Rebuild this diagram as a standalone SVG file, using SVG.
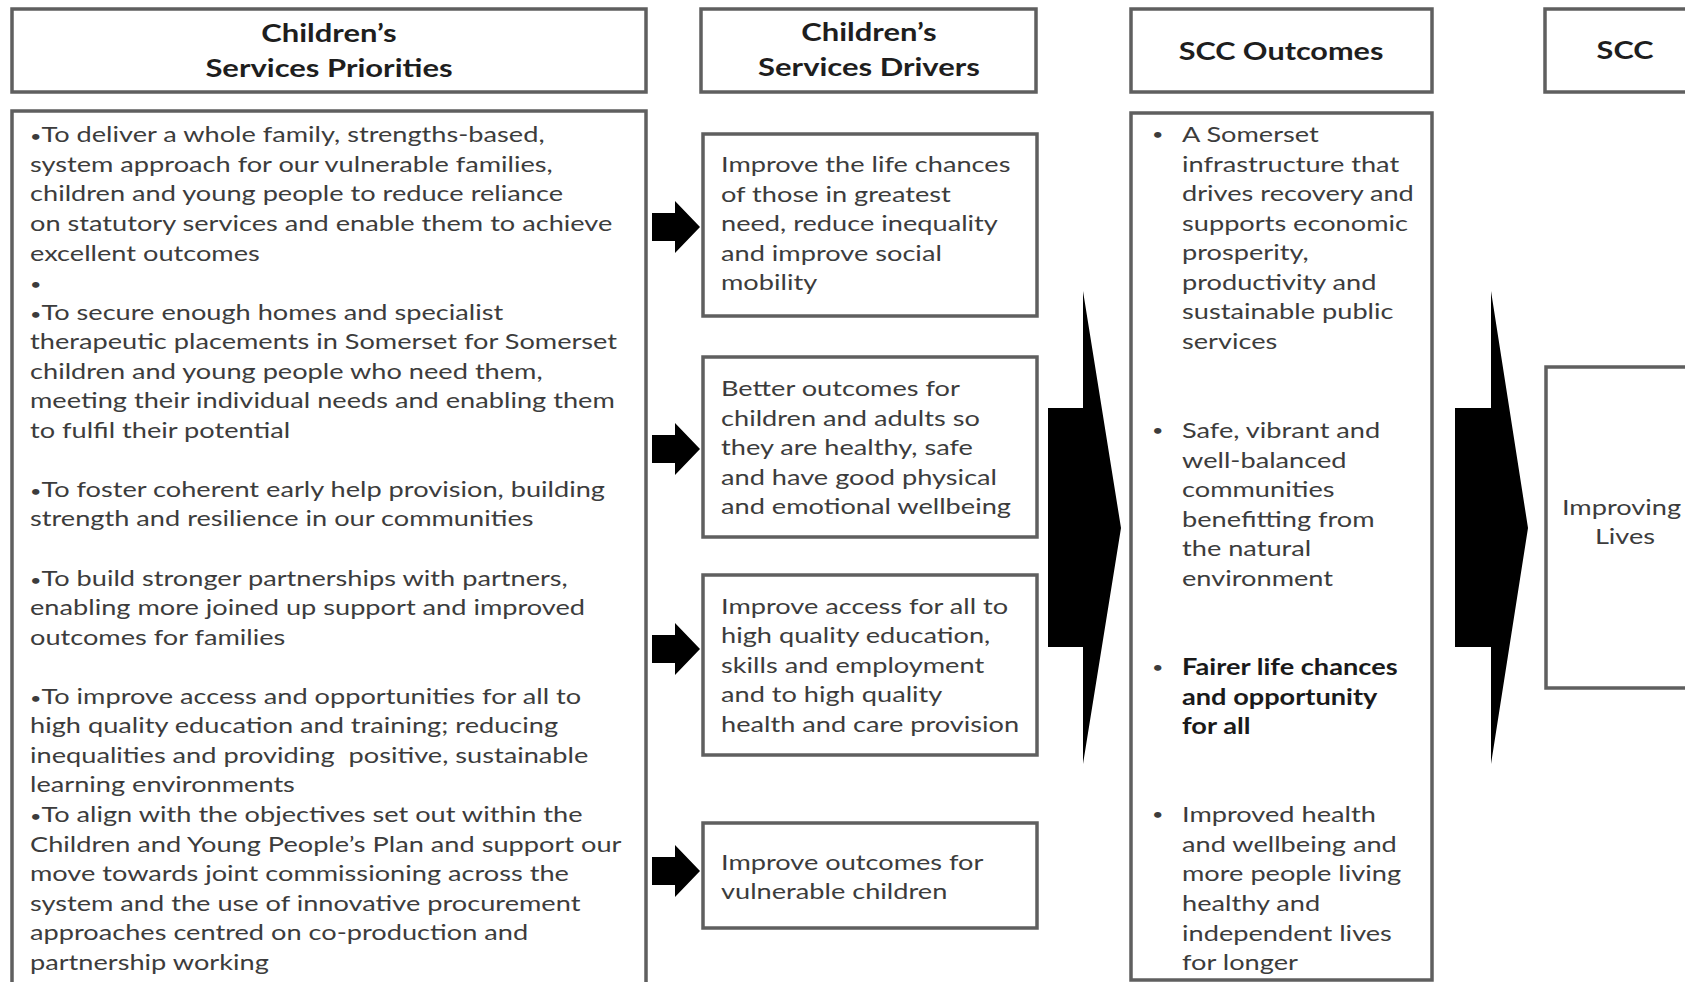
<svg xmlns="http://www.w3.org/2000/svg" width="1685" height="982" viewBox="0 0 1685 982">
<style>
.box{fill:#fff;stroke:#5f5f5f;stroke-width:3.5}
.t{font-family:Lato,"Open Sans","Liberation Sans",sans-serif;font-size:22px;fill:#3c3c3c}
.tb{font-family:Lato,"Open Sans","Liberation Sans",sans-serif;font-size:22px;fill:#1a1a1a;font-weight:bold}
.h{font-family:Lato,"Open Sans","Liberation Sans",sans-serif;font-size:25.5px;fill:#1e1e1e;font-weight:bold;text-anchor:middle}
.c{text-anchor:middle}
.bu{font-size:16px}
.arr{fill:#000}
</style>
<rect width="1685" height="982" fill="#fff"/>

<g id="hdr-priorities">
<rect class="box" x="12" y="9" width="634" height="83"/>
<g transform="translate(329 0) scale(1.215 1)"><text class="h"><tspan x="0" y="42">Children’s</tspan><tspan x="0" y="77">Services Priorities</tspan></text></g>
</g>

<g id="hdr-drivers">
<rect class="box" x="701" y="9" width="335" height="83"/>
<g transform="translate(869 0) scale(1.215 1)"><text class="h"><tspan x="0" y="41">Children’s</tspan><tspan x="0" y="76">Services Drivers</tspan></text></g>
</g>

<g id="hdr-outcomes">
<rect class="box" x="1131" y="9" width="301" height="83"/>
<g transform="translate(1281 0) scale(1.2 1)"><text class="h"><tspan x="0" y="60">SCC Outcomes</tspan></text></g>
</g>

<g id="hdr-scc">
<rect class="box" x="1545" y="9" width="170" height="83"/>
<g transform="translate(1625 0) scale(1.2 1)"><text class="h"><tspan x="0" y="59">SCC</tspan></text></g>
</g>

<g id="priorities">
<rect class="box" x="12" y="111" width="634" height="890"/>
<g transform="translate(30 0) scale(1.235 1)"><text class="t">
<tspan x="0" y="142.4"><tspan class="bu">•</tspan>To deliver a whole family, strengths-based,</tspan>
<tspan x="0" y="171.9">system approach for our vulnerable families,</tspan>
<tspan x="0" y="201.5">children and young people to reduce reliance</tspan>
<tspan x="0" y="231">on statutory services and enable them to achieve</tspan>
<tspan x="0" y="260.6">excellent outcomes</tspan>
<tspan x="0" y="290.2" class="bu">•</tspan>
<tspan x="0" y="319.7"><tspan class="bu">•</tspan>To secure enough homes and specialist</tspan>
<tspan x="0" y="349.2">therapeutic placements in Somerset for Somerset</tspan>
<tspan x="0" y="378.8">children and young people who need them,</tspan>
<tspan x="0" y="408.3">meeting their individual needs and enabling them</tspan>
<tspan x="0" y="437.9">to fulfil their potential</tspan>
<tspan x="0" y="497"><tspan class="bu">•</tspan>To foster coherent early help provision, building</tspan>
<tspan x="0" y="526.5">strength and resilience in our communities</tspan>
<tspan x="0" y="585.6"><tspan class="bu">•</tspan>To build stronger partnerships with partners,</tspan>
<tspan x="0" y="615.2">enabling more joined up support and improved</tspan>
<tspan x="0" y="644.7">outcomes for families</tspan>
<tspan x="0" y="703.8"><tspan class="bu">•</tspan>To improve access and opportunities for all to</tspan>
<tspan x="0" y="733.4">high quality education and training; reducing</tspan>
<tspan x="0" y="762.9" xml:space="preserve">inequalities and providing  positive, sustainable</tspan>
<tspan x="0" y="792.5">learning environments</tspan>
<tspan x="0" y="822"><tspan class="bu">•</tspan>To align with the objectives set out within the</tspan>
<tspan x="0" y="851.6">Children and Young People’s Plan and support our</tspan>
<tspan x="0" y="881.1">move towards joint commissioning across the</tspan>
<tspan x="0" y="910.7">system and the use of innovative procurement</tspan>
<tspan x="0" y="940.2">approaches centred on co-production and</tspan>
<tspan x="0" y="969.8">partnership working</tspan>
</text></g>
</g>

<g id="driver-1">
<rect class="box" x="703" y="134" width="334" height="182"/>
<g transform="translate(721 0) scale(1.235 1)"><text class="t">
<tspan x="0" y="172">Improve the life chances</tspan>
<tspan x="0" y="202">of those in greatest</tspan>
<tspan x="0" y="231">need, reduce inequality</tspan>
<tspan x="0" y="261">and improve social</tspan>
<tspan x="0" y="290">mobility</tspan>
</text></g>
</g>

<g id="driver-2">
<rect class="box" x="703" y="357" width="334" height="180"/>
<g transform="translate(721 0) scale(1.235 1)"><text class="t">
<tspan x="0" y="396">Better outcomes for</tspan>
<tspan x="0" y="426">children and adults so</tspan>
<tspan x="0" y="455">they are healthy, safe</tspan>
<tspan x="0" y="485">and have good physical</tspan>
<tspan x="0" y="514">and emotional wellbeing</tspan>
</text></g>
</g>

<g id="driver-3">
<rect class="box" x="703" y="575" width="334" height="180"/>
<g transform="translate(721 0) scale(1.235 1)"><text class="t">
<tspan x="0" y="614">Improve access for all to</tspan>
<tspan x="0" y="643">high quality education,</tspan>
<tspan x="0" y="673">skills and employment</tspan>
<tspan x="0" y="702">and to high quality</tspan>
<tspan x="0" y="732">health and care provision</tspan>
</text></g>
</g>

<g id="driver-4">
<rect class="box" x="703" y="823" width="334" height="105"/>
<g transform="translate(721 0) scale(1.235 1)"><text class="t">
<tspan x="0" y="870">Improve outcomes for</tspan>
<tspan x="0" y="899">vulnerable children</tspan>
</text></g>
</g>

<g id="outcomes">
<rect class="box" x="1131" y="113" width="301" height="867"/>
<g transform="translate(1152 0) scale(1.235 1)"><text class="t bu">
<tspan x="0" y="140">•</tspan>
<tspan x="0" y="436">•</tspan>
<tspan x="0" y="673">•</tspan>
<tspan x="0" y="820.5">•</tspan>
</text></g>
<g transform="translate(1182 0) scale(1.235 1)"><text class="t">
<tspan x="0" y="142">A Somerset</tspan>
<tspan x="0" y="172">infrastructure that</tspan>
<tspan x="0" y="201.5">drives recovery and</tspan>
<tspan x="0" y="231.5">supports economic</tspan>
<tspan x="0" y="260.5">prosperity,</tspan>
<tspan x="0" y="290.5">productivity and</tspan>
<tspan x="0" y="319.5">sustainable public</tspan>
<tspan x="0" y="349.5">services</tspan>
<tspan x="0" y="438">Safe, vibrant and</tspan>
<tspan x="0" y="468">well-balanced</tspan>
<tspan x="0" y="497">communities</tspan>
<tspan x="0" y="527">benefitting from</tspan>
<tspan x="0" y="556">the natural</tspan>
<tspan x="0" y="586">environment</tspan>
</text>
<text class="tb">
<tspan x="0" y="675">Fairer life chances</tspan>
<tspan x="0" y="705">and opportunity</tspan>
<tspan x="0" y="734">for all</tspan>
</text>
<text class="t">
<tspan x="0" y="822.5">Improved health</tspan>
<tspan x="0" y="852.5">and wellbeing and</tspan>
<tspan x="0" y="881.5">more people living</tspan>
<tspan x="0" y="911.5">healthy and</tspan>
<tspan x="0" y="941.5">independent lives</tspan>
<tspan x="0" y="970.5">for longer</tspan>
</text></g>
</g>

<g id="improving-lives">
<rect class="box" x="1546" y="367" width="170" height="321"/>
<g transform="translate(1625 0) scale(1.235 1)"><text class="t c">
<tspan x="0" y="515">Improving</tspan>
<tspan x="0" y="544">Lives</tspan>
</text></g>
</g>

<g id="connectors">
<path class="arr" d="M652,213 H675 V201 L700,227 L675,253 V241 H652 Z"/>
<path class="arr" d="M652,435 H675 V423 L700,449 L675,475 V463 H652 Z"/>
<path class="arr" d="M652,635 H675 V623 L700,649 L675,675 V663 H652 Z"/>
<path class="arr" d="M652,857 H675 V845 L700,871 L675,897 V885 H652 Z"/>
<path class="arr" d="M1048,408 H1083 V291 L1121,528 L1083,764 V647 H1048 Z"/>
<path class="arr" d="M1455,408 H1491 V291 L1528,528 L1491,764 V647 H1455 Z"/>
</g>
</svg>
